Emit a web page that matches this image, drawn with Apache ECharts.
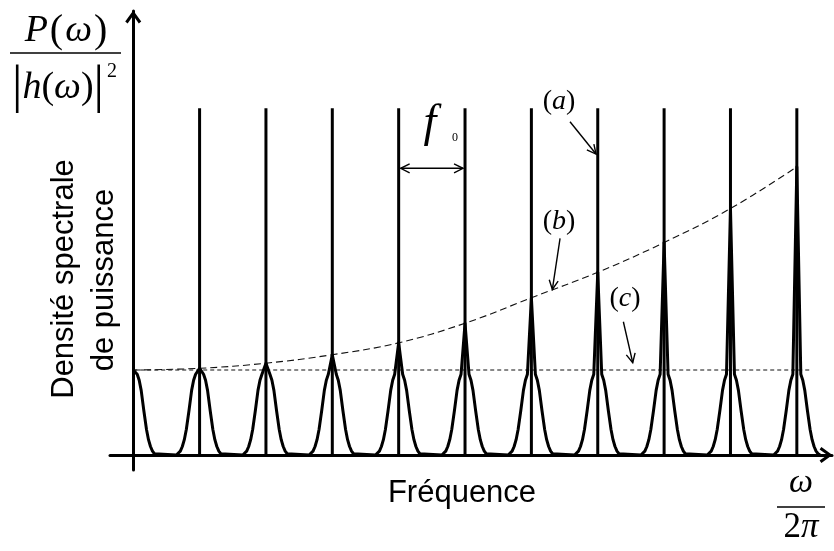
<!DOCTYPE html>
<html><head><meta charset="utf-8">
<script src="https://cdn.jsdelivr.net/npm/echarts@6/dist/echarts.min.js"></script>
<style>html,body{margin:0;padding:0;background:#fff}#c{width:834px;height:551px}</style>
</head><body><div id="c"></div>
<script>
// multiples of f0
const harmonics = [0, 1, 2, 3, 4, 5, 6, 7, 8, 9, 10];
// (b) envelope = tops of the peaks (unit = level of (c))
const peakTops = [1.0, 1.02, 1.08, 1.18, 1.32, 1.55, 1.85, 2.15, 2.5, 2.9, 3.39];
// (a) height of the ideal spectral lines
const lineTop = 4.08;
// (c) flat level and its right end
const flatLevel = 1.0;
const flatEnd = 10.2;
// bell profile of each peak: offset from centre (f0 units) and relative height
const bellOffsets = [0.06, 0.09, 0.12, 0.16, 0.20, 0.23, 0.26, 0.29, 0.32, 0.35];
const bellHeights = [0.95, 0.88, 0.76, 0.52, 0.30, 0.18, 0.10, 0.045, 0.015, 0];
// annotation arrows [x1, y1, x2, y2, doubleHeaded]
const arrows = [
  [6.582, 3.921, 6.974, 3.541, 0],
  [6.432, 2.549, 6.316, 1.949, 0],
  [7.386, 1.568, 7.527, 1.086, 0],
  [4.03, 3.373, 4.97, 3.373, 1]
];

// build peaks curve from the arrays
const peakData = [];
harmonics.forEach(function (k, i) {
  if (k > 0) {
    for (let j = bellOffsets.length - 1; j >= 0; j--) peakData.push([k - bellOffsets[j], bellHeights[j]]);
  }
  peakData.push([k, peakTops[i]]);
  for (let j = 0; j < bellOffsets.length; j++) peakData.push([k + bellOffsets[j], bellHeights[j]]);
});
const envelopeData = harmonics.map(function (k, i) { return [k, peakTops[i]]; });
const linesData = harmonics.filter(function (k) { return k > 0; }).map(function (k) { return [k, lineTop]; });

const serif = 'Liberation Serif';
const sans = 'Liberation Sans';
const chevron = 'path://M8,0 L16,11 L13.6,12.8 L8,5 L2.4,12.8 L0,11 Z';

function head(tip, from) {
  const dx = tip[0] - from[0], dy = tip[1] - from[1];
  const L = Math.hypot(dx, dy), ux = dx / L, uy = dy / L;
  const len = 9, w = 4.5;
  return { type: 'polyline', shape: { points: [
    [tip[0] - ux * len - uy * w, tip[1] - uy * len + ux * w],
    [tip[0], tip[1]],
    [tip[0] - ux * len + uy * w, tip[1] - uy * len - ux * w]] },
    style: { stroke: '#000', lineWidth: 1.4, fill: null } };
}

const chart = echarts.init(document.getElementById('c'));
chart.setOption({
  animation: false,
  backgroundColor: '#fff',
  grid: { left: 110, right: 2, top: 11, bottom: 81 },
  xAxis: {
    type: 'value', min: -0.35, max: 10.53,
    axisLine: { show: true, onZero: true, lineStyle: { color: '#000', width: 3 },
      symbol: ['none', chevron], symbolSize: [16, 13], symbolOffset: [0, -6] },
    axisTick: { show: false }, axisLabel: { show: false }, splitLine: { show: false }
  },
  yAxis: {
    type: 'value', min: -0.1765, max: 5.224,
    axisLine: { show: true, onZero: true, lineStyle: { color: '#000', width: 3 },
      symbol: ['none', chevron], symbolSize: [16, 13], symbolOffset: [0, -6] },
    axisTick: { show: false }, axisLabel: { show: false }, splitLine: { show: false }
  },
  series: [
    { type: 'line', data: [[0, flatLevel], [flatEnd, flatLevel]], symbol: 'none', silent: true,
      lineStyle: { color: '#111', width: 1, type: [4, 3] }, z: 2 },
    { type: 'line', data: envelopeData, smooth: 0.4, symbol: 'none', silent: true,
      lineStyle: { color: '#111', width: 1.1, type: [7, 4] }, z: 2 },
    { type: 'custom', data: linesData, silent: true, z: 3,
      renderItem: function (params, api) {
        const p0 = api.coord([api.value(0), 0]);
        const p1 = api.coord([api.value(0), api.value(1)]);
        return { type: 'line', shape: { x1: p0[0], y1: p0[1], x2: p1[0], y2: p1[1] },
          style: { stroke: '#000', lineWidth: 3 } };
      } },
    { type: 'line', data: peakData, symbol: 'none', silent: true, z: 4,
      lineStyle: { color: '#000', width: 3, join: 'round' } },
    { type: 'custom', data: arrows, silent: true, z: 5,
      renderItem: function (params, api) {
        const p1 = api.coord([api.value(0), api.value(1)]);
        const p2 = api.coord([api.value(2), api.value(3)]);
        const children = [{ type: 'line', shape: { x1: p1[0], y1: p1[1], x2: p2[0], y2: p2[1] },
          style: { stroke: '#000', lineWidth: 1.4 } }, head(p2, p1)];
        if (api.value(4)) children.push(head(p1, p2));
        return { type: 'group', children: children };
      } }
  ],
  graphic: [
    { type: 'text', x: 67, y: 31, style: { text: '{i|P}{p|(}{i|ω}{p|)}', textAlign: 'center', align: 'center', textVerticalAlign: 'middle', verticalAlign: 'middle', fill: '#000',
      rich: { i: { fontFamily: serif, fontStyle: 'italic', fontSize: 38, verticalAlign: 'middle' }, p: { fontFamily: serif, fontSize: 40, verticalAlign: 'middle', padding: [0, 2, 0, 2] } } } },
    { type: 'line', shape: { x1: 10, y1: 53, x2: 121, y2: 53 }, style: { stroke: '#000', lineWidth: 1.5 } },
    { type: 'text', x: 58, y: 88, style: { text: '{b||}{i|h}{p|(}{i|ω}{p|)}{b||}', textAlign: 'center', align: 'center', textVerticalAlign: 'middle', verticalAlign: 'middle', fill: '#000',
      rich: { i: { fontFamily: serif, fontStyle: 'italic', fontSize: 38, verticalAlign: 'middle' }, p: { fontFamily: serif, fontSize: 38, verticalAlign: 'middle' }, b: { fontFamily: serif, fontSize: 52, verticalAlign: 'middle' } } } },
    { type: 'text', x: 112, y: 72, style: { text: '2', font: '20px ' + serif, textAlign: 'center', align: 'center', textVerticalAlign: 'middle', verticalAlign: 'middle', fill: '#000' } },

    { type: 'text', x: 64, y: 279, rotation: Math.PI / 2, style: { text: 'Densité spectrale', font: '31px ' + sans, textAlign: 'center', align: 'center', textVerticalAlign: 'middle', verticalAlign: 'middle', fill: '#000' } },
    { type: 'text', x: 104, y: 280, rotation: Math.PI / 2, style: { text: 'de puissance', font: '31px ' + sans, textAlign: 'center', align: 'center', textVerticalAlign: 'middle', verticalAlign: 'middle', fill: '#000' } },

    { type: 'text', x: 462, y: 493, style: { text: 'Fréquence', font: '31px ' + sans, textAlign: 'center', align: 'center', textVerticalAlign: 'middle', verticalAlign: 'middle', fill: '#000' } },

    { type: 'text', x: 801, y: 483, style: { text: 'ω', font: 'italic 34px ' + serif, textAlign: 'center', align: 'center', textVerticalAlign: 'middle', verticalAlign: 'middle', fill: '#000' } },
    { type: 'line', shape: { x1: 777, y1: 507, x2: 825, y2: 507 }, style: { stroke: '#000', lineWidth: 1.5 } },
    { type: 'text', x: 801, y: 528, style: { text: '{n|2}{i|π}', textAlign: 'center', align: 'center', textVerticalAlign: 'middle', verticalAlign: 'middle', fill: '#000',
      rich: { n: { fontFamily: serif, fontSize: 35, verticalAlign: 'middle' }, i: { fontFamily: serif, fontStyle: 'italic', fontSize: 35, verticalAlign: 'middle' } } } },

    { type: 'text', x: 430, y: 124, style: { text: 'f', font: 'italic 46px ' + serif, textAlign: 'center', align: 'center', textVerticalAlign: 'middle', verticalAlign: 'middle', fill: '#000' } },
    { type: 'text', x: 455, y: 138, style: { text: '0', font: '12px ' + serif, textAlign: 'center', align: 'center', textVerticalAlign: 'middle', verticalAlign: 'middle', fill: '#000' } },

    { type: 'text', x: 559, y: 102, style: { text: '{p|(}{i|a}{p|)}', textAlign: 'center', align: 'center', textVerticalAlign: 'middle', verticalAlign: 'middle', fill: '#000',
      rich: { p: { fontFamily: serif, fontSize: 28, verticalAlign: 'middle' }, i: { fontFamily: serif, fontStyle: 'italic', fontSize: 28, verticalAlign: 'middle' } } } },
    { type: 'text', x: 559, y: 222, style: { text: '{p|(}{i|b}{p|)}', textAlign: 'center', align: 'center', textVerticalAlign: 'middle', verticalAlign: 'middle', fill: '#000',
      rich: { p: { fontFamily: serif, fontSize: 28, verticalAlign: 'middle' }, i: { fontFamily: serif, fontStyle: 'italic', fontSize: 28, verticalAlign: 'middle' } } } },
    { type: 'text', x: 625, y: 299, style: { text: '{p|(}{i|c}{p|)}', textAlign: 'center', align: 'center', textVerticalAlign: 'middle', verticalAlign: 'middle', fill: '#000',
      rich: { p: { fontFamily: serif, fontSize: 28, verticalAlign: 'middle' }, i: { fontFamily: serif, fontStyle: 'italic', fontSize: 28, verticalAlign: 'middle' } } } }
  ]
});
</script>
</body></html>
